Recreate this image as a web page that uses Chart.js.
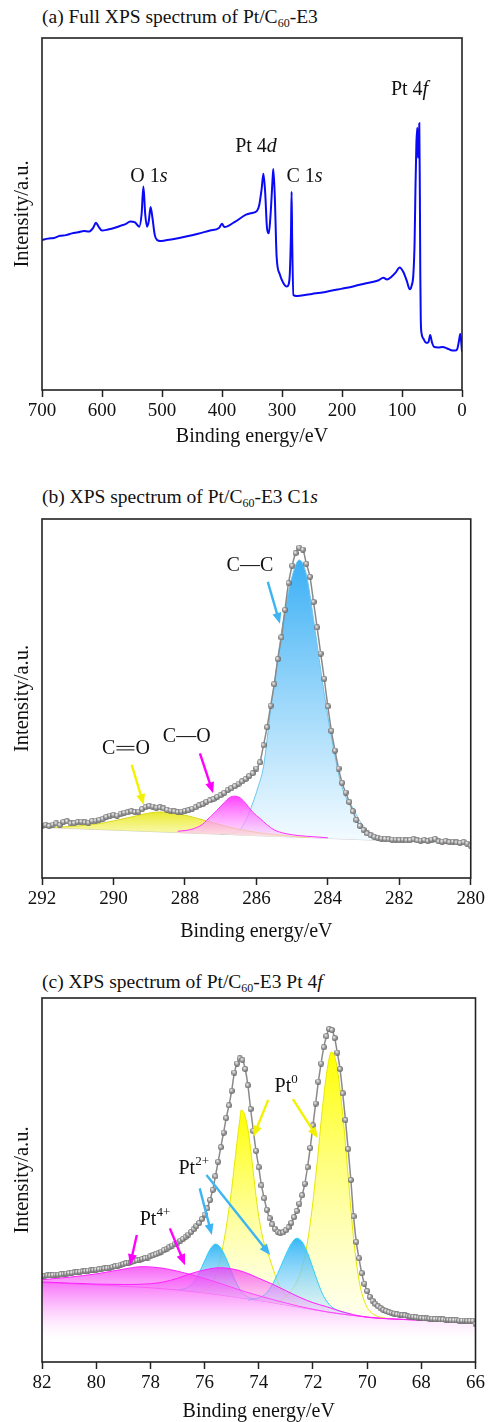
<!DOCTYPE html>
<html>
<head>
<meta charset="utf-8">
<script src="https://cdn.jsdelivr.net/npm/chart.js@4.4.1/dist/chart.umd.min.js"></script>
<style>
  body { margin: 0; background: #fff; width: 488px; height: 1422px; position: relative; overflow: hidden;
         font-family: "Liberation Serif", "Times New Roman", serif; }
  .ttl { position: absolute; left: 42px; font-size: 19.5px; line-height: 24px; color: #111; white-space: nowrap; }
  .ttl sub { font-size: 12px; vertical-align: -4px; line-height: 0; }
  canvas { position: absolute; left: 0; }
</style>
</head>
<body>
<div class="ttl" style="top:5px">(a) Full XPS spectrum of Pt/C<sub>60</sub>-E3</div>
<canvas id="chart-a" width="488" height="450" style="top:0"></canvas>
<div class="ttl" style="top:485px">(b) XPS spectrum of Pt/C<sub>60</sub>-E3 C1<i>s</i></div>
<canvas id="chart-b" width="488" height="490" style="top:460px"></canvas>
<div class="ttl" style="top:970px">(c) XPS spectrum of Pt/C<sub>60</sub>-E3 Pt 4<i>f</i></div>
<canvas id="chart-c" width="488" height="462" style="top:960px"></canvas>

<script>
const SERIF = '"Liberation Serif", "Times New Roman", serif';

// ---- (a) survey spectrum ----
const surveyRange = [0, 700, 100];
const surveyE = [700, 690, 680, 670, 660, 650, 640, 630, 622, 615, 610, 606, 600, 590, 580, 570, 560, 553, 545, 538,
  534, 531, 528, 525, 522, 519, 516, 512, 508, 503, 495, 480, 460, 440, 420, 405, 400, 396, 380, 360,
  350, 342, 338, 334, 331, 328, 325, 322, 319, 316, 314.5, 312, 309, 304, 298, 292, 289, 287, 285, 284,
  283, 281, 276, 270, 250, 230, 200, 180, 160, 140, 131, 125, 118, 110, 104, 98, 92, 87, 84, 81,
  79, 77.5, 76, 74.5, 73.3, 72.3, 71.2, 70.2, 69.5, 68.7, 67.5, 64, 60, 56, 53, 50, 46, 40, 32, 25,
  18, 12, 8, 5, 3, 1.5, 0];
const surveyI = [42.6, 43.0, 43.2, 43.8, 44.0, 44.5, 44.8, 45.2, 45.0, 46.0, 47.5, 46.5, 45.3, 45.6, 46.0, 46.6, 47.2, 47.9, 47.6, 46.4,
  50.0, 57.8, 50.0, 46.4, 48.0, 52.0, 49.0, 44.0, 42.6, 42.3, 42.5, 42.9, 43.6, 44.4, 45.3, 46.0, 47.2, 46.3, 47.6, 49.8,
  50.3, 50.8, 52.5, 57.0, 61.4, 56.0, 46.0, 44.5, 50.0, 59.0, 62.8, 55.0, 38.0, 33.0, 30.5, 29.4, 30.0, 33.0, 45.0, 56.3,
  42.0, 27.0, 26.7, 26.8, 27.3, 27.8, 28.8, 29.5, 30.3, 31.1, 31.9, 31.4, 32.1, 33.5, 34.8, 33.6, 31.0, 28.6, 29.6, 33.0,
  42.0, 58.0, 70.0, 74.5, 66.0, 69.0, 75.8, 55.0, 33.0, 20.0, 16.2, 14.5, 13.4, 13.6, 15.6, 13.5, 12.2, 12.1, 12.2, 11.8,
  11.3, 11.2, 11.6, 14.0, 15.9, 14.0, 10.9];
const surveyLabels = [
  { at: [521.7, 60.6], parts: [['O 1'], ['s', 'i']] },
  { at: [343.3, 69.1], parts: [['Pt 4'], ['d', 'i']] },
  { at: [262.5, 60.6], parts: [['C 1'], ['s', 'i']] },
  { at: [87.5, 85.2], parts: [['Pt 4'], ['f', 'i']] }
];

// ---- (b) C1s ----
const c1sRange = [280, 292, 2];
const c1sE = [
  292.0, 291.9, 291.8, 291.7, 291.6, 291.5, 291.4, 291.3, 291.2, 291.1,
  291.0, 290.9, 290.8, 290.7, 290.6, 290.5, 290.4, 290.3, 290.2, 290.1,
  290.0, 289.9, 289.8, 289.7, 289.6, 289.5, 289.4, 289.3, 289.2, 289.1,
  289.0, 288.9, 288.8, 288.7, 288.6, 288.5, 288.4, 288.3, 288.2, 288.1,
  288.0, 287.9, 287.8, 287.7, 287.6, 287.5, 287.4, 287.3, 287.2, 287.1,
  287.0, 286.9, 286.8, 286.7, 286.6, 286.5, 286.4, 286.3, 286.2, 286.1,
  286.0, 285.9, 285.8, 285.7, 285.6, 285.5, 285.4, 285.3, 285.2, 285.1,
  285.0, 284.9, 284.8, 284.7, 284.6, 284.5, 284.4, 284.3, 284.2, 284.1,
  284.0, 283.9, 283.8, 283.7, 283.6, 283.5, 283.4, 283.3, 283.2, 283.1,
  283.0, 282.9, 282.8, 282.7, 282.6, 282.5, 282.4, 282.3, 282.2, 282.1,
  282.0, 281.9, 281.8, 281.7, 281.6, 281.5, 281.4, 281.3, 281.2, 281.1,
  281.0, 280.9, 280.8, 280.7, 280.6, 280.5, 280.4, 280.3, 280.2, 280.1,
  280.0];
const c1sI = [
  14.6, 14.8, 14.5, 14.9, 15.2, 14.8, 15.6, 15.8, 15.2, 15.3,
  15.6, 15.7, 15.5, 15.4, 15.9, 16.0, 16.2, 16.5, 17.0, 17.4,
  17.6, 17.4, 17.9, 18.2, 18.3, 18.6, 18.4, 18.5, 19.2, 19.8,
  20.1, 19.9, 19.6, 19.7, 19.4, 19.0, 18.8, 18.6, 18.4, 18.5,
  18.7, 18.9, 19.3, 19.7, 20.2, 20.6, 21.2, 21.6, 22.0, 22.6,
  23.1, 23.7, 24.5, 25.0, 25.6, 26.3, 26.9, 27.6, 28.4, 29.2,
  30.5, 32.2, 37.0, 42.0, 48.0, 54.0, 61.0, 67.0, 74.7, 82.2,
  87.0, 90.5, 92.0, 91.5, 87.5, 83.9, 76.9, 69.8, 62.5, 55.5,
  47.8, 41.0, 35.5, 30.5, 26.5, 23.8, 21.2, 18.6, 16.2, 14.5,
  13.4, 12.4, 11.9, 11.5, 11.2, 11.0, 10.9, 10.8, 10.7, 10.7,
  10.6, 10.7, 10.5, 10.6, 10.8, 10.5, 10.4, 10.6, 10.3, 10.7,
  10.9, 10.2, 10.1, 10.3, 10.0, 10.1, 9.9, 9.8, 10.0, 9.6,
  9.0];
const c1sBgE = [292, 280];
const c1sBgI = [14.1, 9.5];
const ccE = [287.0, 286.7, 286.5, 286.3, 286.1, 285.95, 285.8, 285.6, 285.5, 285.4, 285.2, 285.0, 284.8, 284.6,
  284.4, 284.2, 284.0, 283.8, 283.66, 283.5, 283.3, 283.1, 282.9, 282.7, 282.5, 282.0, 281.0, 280.0];
const ccI = [12.2, 12.4, 13.0, 16.0, 20.9, 25.4, 31.0, 47.0, 54.0, 61.5, 74.5, 84.0, 88.6, 84.5,
  72.0, 58.0, 45.0, 34.0, 27.3, 22.5, 19.5, 15.8, 13.3, 12.0, 11.4, 10.8, 10.1, 9.5];
const coE = [288.2, 287.8, 287.5, 287.4, 287.3, 287.1, 286.9, 286.75, 286.6, 286.45, 286.3, 286.1, 285.9, 285.7,
  285.5, 285.2, 284.8, 284.4, 284.0];
const coI = [13.0, 13.6, 15.0, 16.0, 16.9, 18.9, 21.0, 22.4, 22.8, 22.3, 20.8, 18.3, 16.6, 14.8,
  13.4, 12.4, 11.8, 11.5, 11.2];
const c2oE = [292.0, 291.5, 291.0, 290.5, 290.0, 289.5, 289.0, 288.7, 288.4, 288.0, 287.5, 287.0, 286.5, 286.0,
  285.5, 285.0, 284.5];
const c2oI = [14.1, 14.2, 14.5, 15.0, 15.9, 17.0, 18.1, 18.4, 18.2, 17.5, 16.2, 14.8, 13.6, 12.7,
  12.1, 11.6, 11.3];
const c1sLabels = [
  { at: [286.18, 86.9], parts: [['C—C']] },
  { at: [289.65, 36.1], parts: [['C'], ['', '='], ['O']] },
  { at: [287.95, 39.4], parts: [['C—O']] }
];
const c1sArrows = [
  { from: [285.68, 82.5], to: [285.34, 70.8], color: '#3db5f2' },
  { from: [289.49, 31.5], to: [289.15, 20.3], color: '#f2f200' },
  { from: [287.58, 34.7], to: [287.21, 23.6], color: '#ff00ff' }
];

// ---- (c) Pt 4f ----
const pt4fRange = [66, 82, 2];
const pt4fE = [
  82.0, 81.9, 81.8, 81.7, 81.6, 81.5, 81.4, 81.3, 81.2, 81.1,
  81.0, 80.9, 80.8, 80.7, 80.6, 80.5, 80.4, 80.3, 80.2, 80.1,
  80.0, 79.9, 79.8, 79.7, 79.6, 79.5, 79.4, 79.3, 79.2, 79.1,
  79.0, 78.9, 78.8, 78.7, 78.6, 78.5, 78.4, 78.3, 78.2, 78.1,
  78.0, 77.9, 77.8, 77.7, 77.6, 77.5, 77.4, 77.3, 77.2, 77.1,
  77.0, 76.9, 76.8, 76.7, 76.6, 76.5, 76.4, 76.3, 76.2, 76.1,
  76.0, 75.9, 75.8, 75.7, 75.6, 75.5, 75.4, 75.3, 75.2, 75.1,
  75.0, 74.9, 74.8, 74.7, 74.6, 74.5, 74.4, 74.3, 74.2, 74.1,
  74.0, 73.9, 73.8, 73.7, 73.6, 73.5, 73.4, 73.3, 73.2, 73.1,
  73.0, 72.9, 72.8, 72.7, 72.6, 72.5, 72.4, 72.3, 72.2, 72.1,
  72.0, 71.9, 71.8, 71.7, 71.6, 71.5, 71.4, 71.3, 71.2, 71.1,
  71.0, 70.9, 70.8, 70.7, 70.6, 70.5, 70.4, 70.3, 70.2, 70.1,
  70.0, 69.9, 69.8, 69.7, 69.6, 69.5, 69.4, 69.3, 69.2, 69.1,
  69.0, 68.9, 68.8, 68.7, 68.6, 68.5, 68.4, 68.3, 68.2, 68.1,
  68.0, 67.9, 67.8, 67.7, 67.6, 67.5, 67.4, 67.3, 67.2, 67.1,
  67.0, 66.9, 66.8, 66.7, 66.6, 66.5, 66.4, 66.3, 66.2, 66.1,
  66.0];
const pt4fI = [
  23.6, 23.7, 23.8, 23.8, 23.9, 24.0, 24.0, 24.1, 24.2, 24.3,
  24.4, 24.5, 24.6, 24.7, 24.8, 24.9, 25.0, 25.1, 25.2, 25.3,
  25.4, 25.5, 25.6, 25.7, 25.8, 25.9, 26.1, 26.3, 26.5, 26.7,
  26.9, 27.1, 27.3, 27.5, 27.7, 27.9, 28.1, 28.3, 28.5, 28.7,
  29.0, 29.3, 29.6, 29.9, 30.3, 30.7, 31.1, 31.5, 32.0, 32.4,
  32.8, 33.3, 33.8, 34.4, 35.0, 35.7, 36.5, 37.3, 38.2, 39.3,
  40.5, 42.2, 44.5, 47.3, 51.0, 55.0, 59.0, 63.0, 67.0, 70.5,
  74.5, 79.5, 82.0, 83.4, 83.0, 80.5, 76.0, 69.5, 63.5, 58.0,
  53.5, 48.5, 45.0, 41.8, 39.5, 37.8, 36.6, 35.8, 35.4, 35.6,
  36.2, 37.0, 38.2, 39.8, 41.5, 43.5, 45.8, 49.0, 53.5, 58.8,
  65.0, 71.0, 77.0, 82.0, 86.5, 89.5, 91.5, 91.2, 89.0, 85.0,
  80.5, 73.8, 66.5, 58.5, 50.0, 40.0, 33.0, 28.5, 24.4, 21.5,
  19.5, 17.9, 16.8, 16.0, 15.3, 14.8, 14.3, 14.0, 13.7, 13.5,
  13.3, 13.1, 13.0, 12.9, 12.8, 12.6, 12.5, 12.4, 12.3, 12.2,
  12.1, 12.0, 12.0, 11.9, 11.9, 11.8, 11.8, 11.7, 11.7, 11.6,
  11.6, 11.5, 11.5, 11.5, 11.4, 11.4, 11.4, 11.3, 11.3, 11.3,
  10.5];
const ptBgE = [82, 80, 78, 77, 76, 75, 74, 73, 72, 71, 70, 69, 68, 66];
const ptBgI = [21.8, 21.2, 20.4, 19.8, 19.0, 18.0, 16.9, 15.7, 14.4, 13.2, 12.3, 11.8, 11.5, 11.2];
const pt0aE = [76.2, 75.8, 75.6, 75.4, 75.2, 75.0, 74.9, 74.8, 74.7, 74.65, 74.55, 74.4, 74.3, 74.2, 74.1, 74.0,
  73.8, 73.6, 73.4, 73.2, 73.0, 72.6];
const pt0aI = [18.9, 20.8, 23.5, 29.0, 37.0, 47.5, 54.0, 60.5, 66.5, 69.2, 68.5, 64.0, 58.5, 52.0, 45.5, 40.0,
  32.5, 28.5, 24.0, 20.5, 18.3, 16.2];
const pt0bE = [73.4, 73.0, 72.6, 72.4, 72.2, 72.0, 71.9, 71.8, 71.7, 71.6, 71.5, 71.4, 71.32, 71.2, 71.1, 71.0,
  70.9, 70.8, 70.7, 70.6, 70.5, 70.4, 70.3, 70.2, 70.0, 69.8, 69.5, 69.0];
const pt0bI = [16.0, 18.0, 22.0, 26.0, 33.0, 44.0, 51.0, 58.0, 66.0, 73.0, 79.0, 83.5, 85.2, 84.0, 80.5, 75.0,
  68.0, 60.0, 51.0, 42.0, 34.0, 27.5, 22.5, 19.0, 15.0, 13.3, 12.3, 11.8];
const pt2aE = [77.0, 76.6, 76.4, 76.2, 76.0, 75.8, 75.6, 75.4, 75.2, 75.0, 74.8, 74.6, 74.4, 74.1];
const pt2aI = [19.8, 20.6, 22.0, 24.5, 27.8, 30.9, 32.4, 31.3, 28.4, 24.6, 21.3, 19.0, 17.8, 17.3];
const pt2bE = [74.4, 74.1, 73.8, 73.6, 73.4, 73.2, 73.0, 72.8, 72.6, 72.4, 72.2, 72.0, 71.8, 71.6, 71.4, 71.2, 71.0, 70.6];
const pt2bI = [17.0, 17.4, 18.4, 20.0, 22.7, 26.0, 29.5, 32.5, 34.0, 33.0, 30.0, 25.8, 21.5, 18.0, 15.8, 14.6, 13.9, 13.2];
const pt4aE = [82, 81, 80, 79, 78.3, 77.5, 76.5, 75.5, 74.5, 73.5, 72.5, 71.5, 70.5, 69.5, 68, 66];
const pt4aI = [22.6, 23.3, 24.2, 25.5, 26.2, 25.7, 24.0, 21.8, 19.3, 17.2, 15.3, 13.8, 12.8, 12.0, 11.5, 11.2];
const pt4bE = [82, 80, 79, 78, 77.5, 77, 76.5, 76, 75.45, 75, 74.5, 74, 73.5, 73, 72.5, 72, 71.5, 71, 70.5, 70, 69, 68, 66];
const pt4bI = [22.0, 21.4, 21.3, 21.5, 22.0, 23.0, 24.3, 25.3, 25.9, 25.6, 24.6, 23.0, 21.4, 19.6, 17.8, 16.3, 15.2, 14.0,
  13.0, 12.3, 11.8, 11.5, 11.2];
const pt4fLabels = [
  { at: [72.99, 75.6], parts: [['Pt'], ['0', 'sup']] },
  { at: [76.4, 53.2], parts: [['Pt'], ['2+', 'sup']] },
  { at: [77.83, 39.0], parts: [['Pt'], ['4+', 'sup']] }
];
const pt4fArrows = [
  { from: [73.65, 72.0], to: [74.2, 61.9], color: '#f2f200' },
  { from: [72.74, 72.2], to: [71.82, 61.5], color: '#f2f200' },
  { from: [76.18, 47.7], to: [75.73, 34.9], color: '#3db5f2' },
  { from: [75.93, 51.4], to: [73.58, 29.4], color: '#3db5f2' },
  { from: [78.5, 34.9], to: [78.75, 26.6], color: '#ff00ff' },
  { from: [77.28, 36.7], to: [76.72, 26.6], color: '#ff00ff' }
];

// ---- helpers ----
const pts = (xs, ys) => xs.map((x, i) => ({ x, y: ys[i] }));

function ballSprite() {
  const c = document.createElement('canvas');
  c.width = 6; c.height = 6;
  const g = c.getContext('2d');
  const rg = g.createRadialGradient(2.2, 2.0, 0.3, 3, 3, 3.2);
  rg.addColorStop(0, '#f6f6f6');
  rg.addColorStop(0.45, '#a6a6a6');
  rg.addColorStop(1, '#5c5c5c');
  g.fillStyle = rg;
  g.beginPath(); g.arc(3, 3, 3, 0, Math.PI * 2); g.fill();
  return c;
}
const ball = ballSprite();

// vertical gradient between two intensity levels
function vGrad(top, bottom, cTop, cBot) {
  return (c) => {
    const chart = c.chart;
    if (!chart.chartArea) return cTop;
    const y = chart.scales.y;
    const g = chart.ctx.createLinearGradient(0, y.getPixelForValue(top), 0, y.getPixelForValue(bottom));
    g.addColorStop(0, cTop);
    g.addColorStop(1, cBot);
    return g;
  };
}

function comp(xs, ys, line, fill, target, order) {
  return {
    data: pts(xs, ys), borderColor: line, borderWidth: 1, pointRadius: 0,
    cubicInterpolationMode: 'monotone', backgroundColor: fill, fill: target, order
  };
}

function dots(xs, ys) {
  return {
    data: pts(xs, ys), borderColor: '#8a8a8a', borderWidth: 1.5, pointStyle: ball, pointRadius: 3,
    cubicInterpolationMode: 'monotone', fill: false, order: 0
  };
}

function drawLabel(ctx, lb, cx, cy) {
  const fontOf = st => st === 'i' ? `italic 20px ${SERIF}` : st === 'sup' ? `13px ${SERIF}` : `20px ${SERIF}`;
  const widthOf = p => {
    if (p[1] === '=') return 20;
    ctx.font = fontOf(p[1]);
    return ctx.measureText(p[0]).width;
  };
  const total = lb.parts.reduce((s, p) => s + widthOf(p), 0);
  let x = cx - total / 2;
  ctx.fillStyle = '#111';
  ctx.strokeStyle = '#111';
  ctx.textBaseline = 'middle';
  ctx.textAlign = 'left';
  lb.parts.forEach(p => {
    const w = widthOf(p);
    if (p[1] === '=') {
      ctx.lineWidth = 1;
      ctx.beginPath();
      ctx.moveTo(x + 1, cy - 2); ctx.lineTo(x + w - 1, cy - 2);
      ctx.moveTo(x + 1, cy + 1.5); ctx.lineTo(x + w - 1, cy + 1.5);
      ctx.stroke();
    } else {
      ctx.font = fontOf(p[1]);
      ctx.fillText(p[0], x, p[1] === 'sup' ? cy - 7 : cy);
    }
    x += w;
  });
}

const decor = {
  id: 'decor',
  afterDatasetsDraw(chart, args, o) {
    const { ctx, chartArea: a } = chart;
    const sx = chart.scales.x, sy = chart.scales.y;
    ctx.save();
    ctx.strokeStyle = '#222';
    ctx.lineWidth = 1.6;
    ctx.strokeRect(a.left, a.top, a.right - a.left, a.bottom - a.top);
    (o.arrows || []).forEach(ar => {
      const x1 = sx.getPixelForValue(ar.from[0]), y1 = sy.getPixelForValue(ar.from[1]);
      const x2 = sx.getPixelForValue(ar.to[0]), y2 = sy.getPixelForValue(ar.to[1]);
      const ang = Math.atan2(y2 - y1, x2 - x1);
      const hl = 11, hw = 4.5;
      const c = Math.cos(ang), s = Math.sin(ang);
      ctx.strokeStyle = ar.color;
      ctx.fillStyle = ar.color;
      ctx.lineWidth = 2.4;
      ctx.beginPath();
      ctx.moveTo(x1, y1);
      ctx.lineTo(x2 - hl * 0.8 * c, y2 - hl * 0.8 * s);
      ctx.stroke();
      ctx.beginPath();
      ctx.moveTo(x2, y2);
      ctx.lineTo(x2 - hl * c + hw * s, y2 - hl * s - hw * c);
      ctx.lineTo(x2 - hl * c - hw * s, y2 - hl * s + hw * c);
      ctx.closePath();
      ctx.fill();
    });
    (o.labels || []).forEach(lb => drawLabel(ctx, lb, sx.getPixelForValue(lb.at[0]), sy.getPixelForValue(lb.at[1])));
    ctx.restore();
  }
};

function makeChart(id, opt) {
  return new Chart(document.getElementById(id), {
    type: 'line',
    data: { datasets: opt.datasets },
    options: {
      responsive: false,
      animation: false,
      events: [],
      layout: { padding: { top: opt.padTop, right: opt.padRight, left: 0, bottom: 0 } },
      plugins: {
        legend: { display: false },
        tooltip: { enabled: false },
        decor: { arrows: opt.arrows, labels: opt.labels }
      },
      scales: {
        x: {
          type: 'linear', reverse: true, min: opt.range[0], max: opt.range[1],
          afterFit: s => { s.height = opt.axisH; },
          ticks: { stepSize: opt.range[2], color: '#111', font: { family: SERIF, size: 19 }, padding: 3, maxRotation: 0, autoSkip: false },
          grid: { display: true, drawOnChartArea: false, drawTicks: true, tickLength: 7, tickWidth: 1.5, tickColor: '#222' },
          border: { display: false },
          title: { display: true, text: 'Binding energy/eV', color: '#111', font: { family: SERIF, size: 20, lineHeight: 1 },
                   padding: { top: 0, bottom: opt.titlePad } }
        },
        y: {
          min: 0, max: 100,
          afterFit: s => { s.width = 42; },
          ticks: { display: false },
          grid: { display: false },
          border: { display: false },
          title: { display: true, text: 'Intensity/a.u.', color: '#111', font: { family: SERIF, size: 20.5, lineHeight: 1 },
                   padding: { top: 12, bottom: 0 } }
        }
      }
    },
    plugins: [decor]
  });
}

// (a)
makeChart('chart-a', {
  range: surveyRange, padTop: 38, padRight: 26, axisH: 60, titlePad: 3,
  labels: surveyLabels, arrows: [],
  datasets: [{
    data: pts(surveyE, surveyI), borderColor: '#0a0af5', borderWidth: 2, pointRadius: 0,
    cubicInterpolationMode: 'monotone', fill: false
  }]
});

// (b)
makeChart('chart-b', {
  range: c1sRange, padTop: 59, padRight: 17, axisH: 72, titlePad: 8,
  labels: c1sLabels, arrows: c1sArrows,
  datasets: [
    { data: pts(c1sBgE, c1sBgI), borderColor: '#cfcfcf', borderWidth: 1, pointRadius: 0, fill: false, order: 4 },
    comp(ccE, ccI, '#6cc4f0', vGrad(88, 11, 'rgba(60,176,245,1)', 'rgba(240,250,255,0.9)'), { target: 0 }, 3),
    comp(c2oE, c2oI, '#d8d820', vGrad(18.5, 11, 'rgba(232,232,30,0.95)', 'rgba(250,250,170,0.7)'), { target: 0 }, 2),
    comp(coE, coI, '#ff30ff', vGrad(23, 11, 'rgba(255,40,255,0.9)', 'rgba(255,215,255,0.6)'), { target: 0 }, 1),
    dots(c1sE, c1sI)
  ]
});

// (c)
makeChart('chart-c', {
  range: pt4fRange, padTop: 38, padRight: 12, axisH: 60, titlePad: 0,
  labels: pt4fLabels, arrows: pt4fArrows,
  datasets: [
    { data: pts(ptBgE, ptBgI), borderColor: '#ff40ff', borderWidth: 1, pointRadius: 0, fill: false, order: 7 },
    comp(pt0aE, pt0aI, '#e6e600', vGrad(69, 16, 'rgba(255,255,0,1)', 'rgba(255,255,215,0.5)'), { target: 0 }, 6),
    comp(pt0bE, pt0bI, '#e6e600', vGrad(85, 13, 'rgba(255,255,0,1)', 'rgba(255,255,215,0.5)'), { target: 0 }, 5),
    comp(pt2aE, pt2aI, '#30d0f5', vGrad(32.5, 17, 'rgba(45,180,245,0.95)', 'rgba(200,235,255,0.55)'), { target: 0 }, 4),
    comp(pt2bE, pt2bI, '#30d0f5', vGrad(34, 14, 'rgba(45,180,245,0.95)', 'rgba(200,235,255,0.55)'), { target: 0 }, 3),
    comp(pt4aE, pt4aI, '#ff20ff', vGrad(26.2, 6, 'rgba(245,50,245,0.75)', 'rgba(255,235,255,0)'), { value: 5 }, 2),
    comp(pt4bE, pt4bI, '#ff20ff', vGrad(26, 6, 'rgba(245,50,245,0.75)', 'rgba(255,235,255,0)'), { value: 5 }, 1),
    dots(pt4fE, pt4fI)
  ]
});
</script>
</body>
</html>
